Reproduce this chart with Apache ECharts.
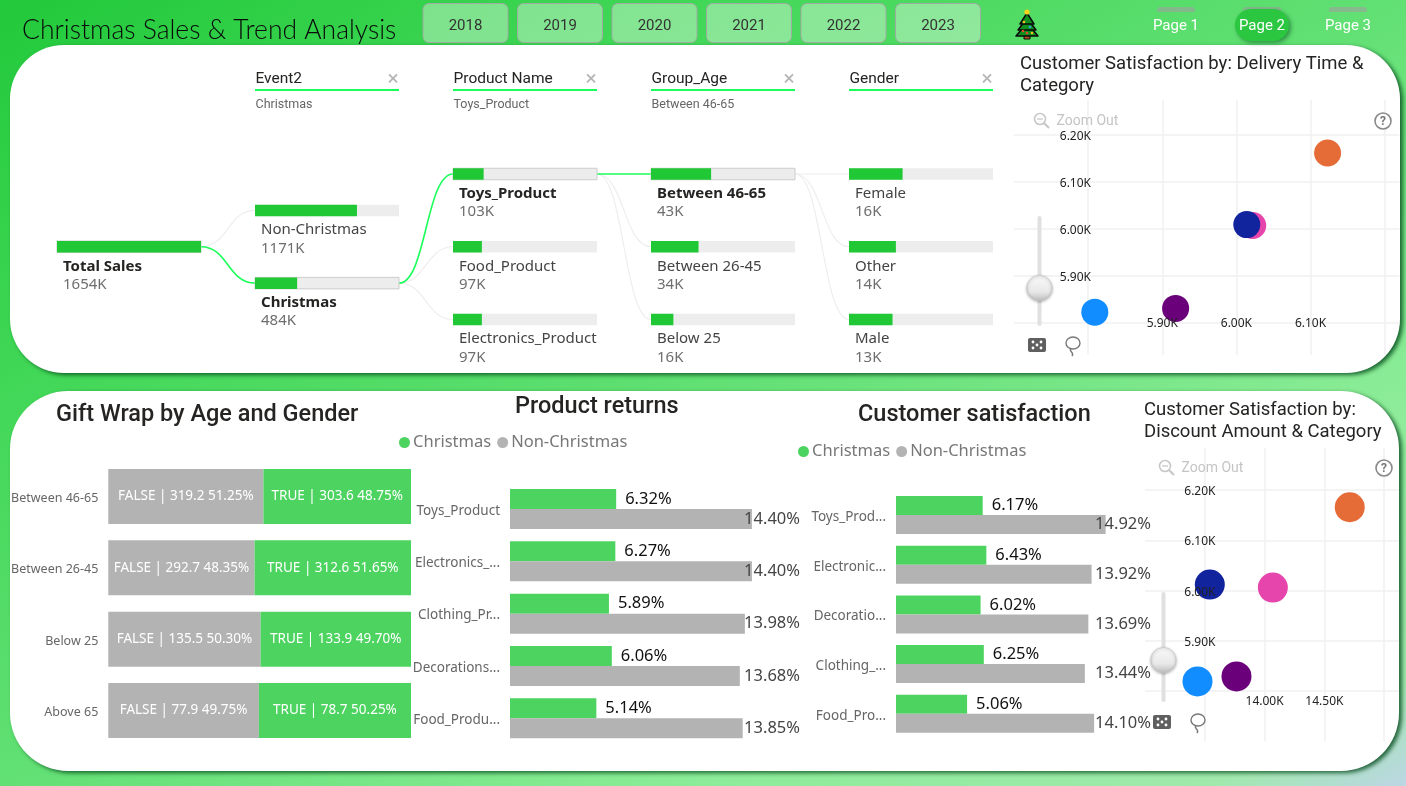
<!DOCTYPE html>
<html>
<head>
<meta charset="utf-8">
<title>Christmas Sales &amp; Trend Analysis</title>
<style>html,body{margin:0;padding:0;overflow:hidden}#chart{width:1406px;height:786px}</style>
<script src="https://cdn.jsdelivr.net/npm/echarts@6/dist/echarts.min.js"></script>
</head>
<body>
<div id="chart"></div>
<script>
// Report data
const years = ['2018', '2019', '2020', '2021', '2022', '2023'];
const pages = ['Page 1', 'Page 2', 'Page 3'];
const activePage = 1;

const treeFields = ['Event2', 'Product Name', 'Group_Age', 'Gender'];
const treeFilters = ['Christmas', 'Toys_Product', 'Between 46-65', ''];
const treeNames = [
  ['Total Sales'],
  ['Non-Christmas', 'Christmas'],
  ['Toys_Product', 'Food_Product', 'Electronics_Product'],
  ['Between 46-65', 'Between 26-45', 'Below 25'],
  ['Female', 'Other', 'Male']
];
const treeValues = [[1654], [1171, 484], [103, 97, 97], [43, 34, 16], [16, 14, 13]];
const treeSelected = [0, 1, 0, 0, -1];

const ageGroups = ['Between 46-65', 'Between 26-45', 'Below 25', 'Above 65'];
const wrapFalse = [319.2, 292.7, 135.5, 77.9];
const wrapTrue = [303.6, 312.6, 133.9, 78.7];
const wrapFalsePct = [51.25, 48.35, 50.30, 49.75];
const wrapTruePct = [48.75, 51.65, 49.70, 50.25];

const returnCategories = ['Toys_Product', 'Electronics_...', 'Clothing_Pr...', 'Decorations...', 'Food_Produ...'];
const returnsChristmas = [6.32, 6.27, 5.89, 6.06, 5.14];
const returnsOther = [14.40, 14.40, 13.98, 13.68, 13.85];

const satisfactionCategories = ['Toys_Prod...', 'Electronic...', 'Decoratio...', 'Clothing_...', 'Food_Pro...'];
const satisfactionChristmas = [6.17, 6.43, 6.02, 6.25, 5.06];
const satisfactionOther = [14.92, 13.92, 13.69, 13.44, 14.10];

const pointColors = ['#E66C37', '#E645AB', '#12239E', '#6B007B', '#118DFF'];
const deliveryX = [6123, 6022, 6014, 5918, 5809];
const deliveryY = [6162, 6007, 6009, 5830, 5822];
const discountX = [14712, 14069, 13542, 13765, 13439];
const discountY = [6166, 6006, 6012, 5829, 5819];
const deliveryXTicks = ['5.90K', '6.00K', '6.10K'];
const deliveryYTicks = ['5.90K', '6.00K', '6.10K', '6.20K'];
const discountXTicks = ['14.00K', '14.50K'];
const discountYTicks = ['5.90K', '6.00K', '6.10K', '6.20K'];

// Shared look
const DIN = 'Roboto, sans-serif';
const UI = '"Noto Sans", "Open Sans", sans-serif';
const GREEN = '#4DD360';
const GRAY = '#B3B3B3';
const TREE_GREEN = '#1FC834';
const TREE_TRACK = '#EDEDED';
const TREE_ACTIVE = '#1AFF5A';
const TREE_NODE_W = 144;
const TREE_COL_STEP = 198;
const TREE_BAR_H = 11.5;

const kLabel = v => (v / 1000).toFixed(2) + 'K';
const tickFormatter = list => v => (list.includes(kLabel(v)) ? kLabel(v) : '');
// Rich wrapper that nudges a label down inside its line
const nudgedTick = list => v => (list.includes(kLabel(v)) ? `{t|${kLabel(v)}}` : '');

// Flatten the decomposition levels into node and link rows
const treeNodes = [];
const treeLinks = [];
treeNames.forEach((names, col) => {
  names.forEach((name, i) => {
    const row = 1 + i - (names.length - 1) / 2;
    const parentIdx = col ? treeSelected[col - 1] : -1;
    const parentValue = col ? treeValues[col - 1][parentIdx] : treeValues[0][0];
    const isOn = treeSelected[col] === i;
    treeNodes.push({ value: [col, row, treeValues[col][i] / parentValue, i], name, raw: treeValues[col][i], isOn });
    if (col) {
      const parentRow = 1 + parentIdx - (treeNames[col - 1].length - 1) / 2;
      treeLinks.push({ value: [col, row, col - 1, parentRow], isOn });
    }
  });
});
treeLinks.sort((a, b) => a.isOn - b.isOn);

function renderTreeLink(params, api) {
  const link = treeLinks[params.dataIndex];
  const end = api.coord([api.value(0), api.value(1)]);
  const start = api.coord([api.value(2), api.value(3)]);
  const x1 = start[0] + TREE_NODE_W;
  const mid = (x1 + end[0]) / 2;
  return {
    type: 'bezierCurve',
    shape: { x1, y1: start[1], x2: end[0], y2: end[1], cpx1: mid, cpy1: start[1], cpx2: mid, cpy2: end[1] },
    style: { stroke: link.isOn ? TREE_ACTIVE : '#EEEEEE', lineWidth: link.isOn ? 1.6 : 1.2, fill: null }
  };
}

function renderTreeNode(params, api) {
  const node = treeNodes[params.dataIndex];
  const [x, y] = api.coord([api.value(0), api.value(1)]);
  const top = y - TREE_BAR_H / 2;
  return {
    type: 'group',
    children: [
      { type: 'rect', shape: { x, y: top, width: TREE_NODE_W, height: TREE_BAR_H },
        style: { fill: TREE_TRACK, stroke: node.isOn ? '#CCCCCC' : null, lineWidth: 1 } },
      { type: 'rect', shape: { x, y: top, width: TREE_NODE_W * api.value(2), height: TREE_BAR_H },
        style: { fill: TREE_GREEN } },
      { type: 'text', style: { text: node.name, x: x + 6, y: y + 19.5, verticalAlign: 'middle',
          fill: node.isOn ? '#252423' : '#444444', fontFamily: UI, fontSize: 15, fontWeight: node.isOn ? 700 : 400 } },
      { type: 'text', style: { text: node.raw + 'K', x: x + 6, y: y + 38, verticalAlign: 'middle',
          fill: '#6E6E6E', fontFamily: UI, fontSize: 15 } }
    ]
  };
}

// Page furniture drawn behind and above the plots
const graphics = [];
const panel = (x, y, width, height, r) => graphics.push({
  type: 'rect', z: -10, shape: { x, y, width, height, r },
  style: { fill: '#FFFFFF', shadowColor: 'rgba(0,70,25,0.8)', shadowBlur: 4, shadowOffsetX: 3, shadowOffsetY: 2 }
});
panel(10, 45, 1390, 328, 54);
panel(10, 391, 1389, 380, 58);

graphics.push({ type: 'text', z: 5, style: { text: 'Christmas Sales & Trend Analysis', x: 22, y: 30, verticalAlign: 'middle',
  fill: '#0A0A0A', fontFamily: 'Lato, sans-serif', fontWeight: 300, fontSize: 26.5 } });

years.forEach((label, i) => {
  const x = 423 + i * 94.5;
  graphics.push({ type: 'rect', z: -5, shape: { x, y: 3.5, width: 85, height: 39, r: 6 },
    style: { fill: 'rgba(255,255,255,0.36)', stroke: 'rgba(165,165,165,0.9)', lineWidth: 1 } });
  graphics.push({ type: 'text', z: 5, style: { text: label, x: x + 42.5, y: 26.5, align: 'center', verticalAlign: 'middle',
    fill: '#333333', fontFamily: DIN, fontSize: 15 } });
});

pages.forEach((label, i) => {
  const cx = 1176 + i * 86;
  graphics.push({ type: 'rect', z: -6, shape: { x: cx - 19, y: 7, width: 38, height: 5, r: [3, 3, 0, 0] },
    style: { fill: 'rgba(160,160,160,0.6)' } });
  if (i === activePage) {
    graphics.push({ type: 'rect', z: -5, shape: { x: cx - 27, y: 9, width: 54, height: 32, r: 16 },
      style: { fill: '#2CC741', shadowColor: 'rgba(0,70,25,0.5)', shadowBlur: 4, shadowOffsetX: 2, shadowOffsetY: 2 } });
  }
  graphics.push({ type: 'text', z: 5, style: { text: label, x: cx, y: 26, align: 'center', verticalAlign: 'middle',
    fill: '#FFFFFF', fontFamily: DIN, fontSize: 15 } });
});

// Small tree ornament next to the page buttons
[[[1027, 13], [1020, 24], [1034, 24]], [[1027, 18], [1018, 30], [1036, 30]], [[1027, 23], [1016, 36], [1038, 36]]]
  .reverse().forEach(points => graphics.push({ type: 'polygon', z: 5, shape: { points },
    style: { fill: '#0E8F1E', stroke: '#0A0A0A', lineWidth: 1.5, lineJoin: 'round' } }));
graphics.push({ type: 'rect', z: 4, shape: { x: 1024, y: 35, width: 6, height: 4 }, style: { fill: '#B5501A', stroke: '#0A0A0A', lineWidth: 1 } });
graphics.push({ type: 'circle', z: 6, shape: { cx: 1027, cy: 12, r: 2.6 }, style: { fill: '#F7D21B' } });
[[1024, 22, '#F2C21B'], [1030, 27, '#2FA8E0'], [1023, 31, '#E84B2A'], [1032, 33, '#F2C21B'], [1027, 33, '#E84B2A']]
  .forEach(([cx, cy, fill]) => graphics.push({ type: 'circle', z: 6, shape: { cx, cy, r: 1.3 }, style: { fill } }));

// Slicer headers above the decomposition columns
treeFields.forEach((field, i) => {
  const x = 57 + TREE_COL_STEP * (i + 1);
  graphics.push({ type: 'text', z: 5, style: { text: field, x: x + 0.5, y: 79, verticalAlign: 'middle', fill: '#252423', fontFamily: DIN, fontSize: 15.5 } });
  graphics.push({ type: 'text', z: 5, style: { text: '×', x: x + 138, y: 79.5, align: 'center', verticalAlign: 'middle', fill: '#B5B5B5', fontFamily: DIN, fontSize: 21 } });
  graphics.push({ type: 'rect', z: 5, shape: { x, y: 89, width: TREE_NODE_W, height: 2 }, style: { fill: TREE_ACTIVE } });
  graphics.push({ type: 'text', z: 5, style: { text: treeFilters[i], x: x + 0.5, y: 104.5, verticalAlign: 'middle', fill: '#666666', fontFamily: DIN, fontSize: 12.5 } });
});

// Zoom, help, slider and selection controls for a scatter plot
function scatterControls(o) {
  const z = 20;
  graphics.push({ type: 'circle', z, shape: { cx: o.zoomX, cy: o.zoomY - 1, r: 5.5 }, style: { fill: 'none', stroke: '#C8C8C8', lineWidth: 1.6 } });
  graphics.push({ type: 'line', z, shape: { x1: o.zoomX + 4, y1: o.zoomY + 3, x2: o.zoomX + 9, y2: o.zoomY + 8 }, style: { stroke: '#C8C8C8', lineWidth: 2.2 } });
  graphics.push({ type: 'line', z, shape: { x1: o.zoomX - 3, y1: o.zoomY - 1, x2: o.zoomX + 3, y2: o.zoomY - 1 }, style: { stroke: '#C8C8C8', lineWidth: 1.3 } });
  graphics.push({ type: 'text', z, style: { text: 'Zoom Out', x: o.zoomX + 16.5, y: o.zoomY + 1.5, verticalAlign: 'middle', fill: '#C4C4C4', fontFamily: DIN, fontSize: 14 } });
  graphics.push({ type: 'circle', z, shape: { cx: o.helpX, cy: o.zoomY + 1, r: 8 }, style: { fill: '#FFFFFF', stroke: '#8A8A8A', lineWidth: 1.6 } });
  graphics.push({ type: 'text', z, style: { text: '?', x: o.helpX, y: o.zoomY + 1.5, align: 'center', verticalAlign: 'middle', fill: '#777777', fontFamily: DIN, fontSize: 12, fontWeight: 700 } });
  graphics.push({ type: 'rect', z, shape: { x: o.sliderX - 2, y: o.sliderTop, width: 4, height: o.sliderH, r: 2 }, style: { fill: '#E0E0E0' } });
  graphics.push({ type: 'circle', z: z + 1, shape: { cx: o.sliderX, cy: o.knobY, r: 12.5 }, style: {
    fill: { type: 'linear', x: 0, y: 0, x2: 0, y2: 1, colorStops: [{ offset: 0, color: '#FAFAFA' }, { offset: 0.65, color: '#E8E8E8' }, { offset: 1, color: '#BDBDBD' }] },
    stroke: '#C8C8C8', lineWidth: 0.8, shadowColor: 'rgba(0,0,0,0.3)', shadowBlur: 3, shadowOffsetY: 1 } });
  graphics.push({ type: 'rect', z, shape: { x: o.iconX - 9, y: o.iconY - 7, width: 18, height: 14, r: 2 }, style: { fill: '#5F5F5F' } });
  [[-4, -3], [4, -3], [-4, 3], [4, 3], [0, 0]].forEach(([dx, dy]) => graphics.push({ type: 'circle', z: z + 1,
    shape: { cx: o.iconX + dx, cy: o.iconY + dy, r: 1.4 }, style: { fill: '#FFFFFF' } }));
  graphics.push({ type: 'ellipse', z, shape: { cx: o.iconX + 36, cy: o.iconY - 2, rx: 7, ry: 6 }, style: { fill: 'none', stroke: '#777777', lineWidth: 1.4 } });
  graphics.push({ type: 'bezierCurve', z, shape: { x1: o.iconX + 34, y1: o.iconY + 3, cpx1: o.iconX + 31, cpy1: o.iconY + 7, cpx2: o.iconX + 38, cpy2: o.iconY + 7, x2: o.iconX + 35, y2: o.iconY + 11 }, style: { fill: 'none', stroke: '#777777', lineWidth: 1.4 } });
}
scatterControls({ zoomX: 1040, zoomY: 120, helpX: 1383, sliderX: 1039.5, sliderTop: 216, sliderH: 110, knobY: 288, iconX: 1037, iconY: 345 });
scatterControls({ zoomX: 1165, zoomY: 467, helpX: 1384, sliderX: 1163.5, sliderTop: 592, sliderH: 110, knobY: 660, iconX: 1162, iconY: 722 });

// Builders for the repeated chart parts
const hiddenValueAxis = (gridIndex, max) => ({ type: 'value', gridIndex, show: false, min: 0, max });
const categoryAxis = (gridIndex, data, fontSize) => ({
  type: 'category', gridIndex, data, inverse: true,
  axisLine: { show: false }, axisTick: { show: false },
  axisLabel: { margin: 10, formatter: v => `{t|${v}}`,
    rich: { t: { color: '#666666', fontFamily: UI, fontSize, padding: [4, 0, 0, 0] } } }
});
const pairSeries = (grid, christmas, other, rightEdge, barWidth) => [
  { name: 'Christmas', type: 'bar', xAxisIndex: grid, yAxisIndex: grid, data: christmas, barWidth, barGap: 0,
    itemStyle: { color: GREEN },
    label: { show: true, position: 'right', distance: 9, color: '#111111', fontFamily: UI, fontSize: 16.5, formatter: p => p.value.toFixed(2) + '%' } },
  { name: 'Non-Christmas', type: 'bar', xAxisIndex: grid, yAxisIndex: grid, data: other, barWidth, barGap: 0,
    itemStyle: { color: GRAY },
    label: { show: true, position: 'right', color: '#444444', fontFamily: UI, fontSize: 16.5, formatter: p => p.value.toFixed(2) + '%' },
    labelLayout: () => ({ x: rightEdge, align: 'right', verticalAlign: 'middle' }) }
];

// Tick labels sit above the points, the gridlines below them, so each scatter
// plot has a label layer plus separate gridline layers on the same scales.
const SCATTER_LINE = { show: true, showMinLine: false, showMaxLine: false, lineStyle: { color: '#F1F1F1', width: 1.5 } };
const bareAxis = { axisLine: { show: false }, axisTick: { show: false } };
const scatterXAxis = (gridIndex, s, extra) => ({ type: 'value', gridIndex, min: s.xMin, max: s.xMax, interval: s.xStep, ...bareAxis, splitLine: { show: false }, axisLabel: { show: false }, ...extra });
const scatterYAxis = (gridIndex, s, extra) => ({ type: 'value', gridIndex, min: s.yMin, max: s.yMax, interval: 100, ...bareAxis, splitLine: { show: false }, axisLabel: { show: false }, ...extra });
const scatterGrids = [
  { rect: { left: 1014, top: 100, width: 385.5, height: 269.3 }, vLineHeight: 255, xMin: 5700, xMax: 6220, xStep: 100, xOffset: -51.5, yOffset: -77, xTicks: deliveryXTicks, yTicks: deliveryYTicks, yMin: 5700, yMax: 6275 },
  { rect: { left: 1145, top: 448, width: 254, height: 293.2 }, vLineHeight: 293.2, xMin: 13000, xMax: 15124, xStep: 500, xOffset: -46, yOffset: -70.5, xTicks: discountXTicks, yTicks: discountYTicks, yMin: 5700, yMax: 6284 }
];
const labelStyle = { margin: 0, color: '#222222', fontFamily: UI, fontSize: 12 };
const nudgedRich = { t: { color: '#222222', fontFamily: UI, fontSize: 12, padding: [3, 0, 0, 0] } };

const headingStyle = size => ({ color: '#252423', fontFamily: DIN, fontSize: size, fontWeight: 500 });
const smallHeading = { ...headingStyle(18.5), lineHeight: 21.5, fontWeight: 400 };
const legendText = { color: '#777777', fontFamily: UI, fontSize: 16.5, padding: [0, 0, 0, -2] };
const legendBase = { padding: 0, icon: 'circle', itemWidth: 11, itemHeight: 11, itemGap: 6, selectedMode: false, data: ['Christmas', 'Non-Christmas'], textStyle: legendText };

const grids = [
  { left: 57, top: 174, width: TREE_COL_STEP * 5, height: 145.5 },
  scatterGrids[0].rect,
  scatterGrids[1].rect,
  { left: 108.3, top: 460.9, width: 302.7, height: 285.2 },
  { left: 510, top: 482.8, width: 268.8, height: 261.7 },
  { left: 896, top: 490.2, width: 224.8, height: 248.4 }
];
const xAxes = [
  { type: 'value', gridIndex: 0, show: false, min: 0, max: 5 },
  scatterXAxis(1, scatterGrids[0], { z: 10, offset: scatterGrids[0].xOffset, axisLabel: { ...labelStyle, verticalAlign: 'top', formatter: tickFormatter(deliveryXTicks) } }),
  scatterXAxis(2, scatterGrids[1], { z: 10, offset: scatterGrids[1].xOffset, axisLabel: { ...labelStyle, verticalAlign: 'top', formatter: tickFormatter(discountXTicks) } }),
  hiddenValueAxis(3, 100),
  hiddenValueAxis(4, 16),
  hiddenValueAxis(5, 16)
];
const yAxes = [
  { type: 'value', gridIndex: 0, show: false, min: 0, max: 2, inverse: true },
  scatterYAxis(1, scatterGrids[0], { z: 10, offset: scatterGrids[0].yOffset, axisLabel: { margin: 0, rich: nudgedRich, formatter: nudgedTick(deliveryYTicks) } }),
  scatterYAxis(2, scatterGrids[1], { z: 10, offset: scatterGrids[1].yOffset, axisLabel: { margin: 0, rich: nudgedRich, formatter: nudgedTick(discountYTicks) } }),
  categoryAxis(3, ageGroups, 12.5),
  categoryAxis(4, returnCategories, 13.5),
  categoryAxis(5, satisfactionCategories, 13.5)
];
// Gridline layers: one grid for the vertical lines, one for the horizontal ones
scatterGrids.forEach(s => {
  const vIndex = grids.length;
  grids.push({ ...s.rect, height: s.vLineHeight });
  xAxes.push(scatterXAxis(vIndex, s, { z: 1, splitLine: SCATTER_LINE }));
  yAxes.push(scatterYAxis(vIndex, s, { z: 1 }));
  const hIndex = grids.length;
  grids.push({ ...s.rect });
  xAxes.push(scatterXAxis(hIndex, s, { z: 1 }));
  yAxes.push(scatterYAxis(hIndex, s, { z: 1, splitLine: SCATTER_LINE }));
});

const scatterSeries = (grid, xs, ys, symbolSize) => ({
  type: 'scatter', xAxisIndex: grid, yAxisIndex: grid, symbolSize, z: 3,
  data: xs.map((x, i) => ({ value: [x, ys[i]], itemStyle: { color: pointColors[i], opacity: 1 } }))
});

const option = {
  animation: false,
  // The gradient vector is normal to the page's anti-diagonal
  backgroundColor: { type: 'linear', x: 0, y: 0, x2: 0.476, y2: 1.523, colorStops: [
    { offset: 0, color: '#22C93A' }, { offset: 0.25, color: '#41D757' }, { offset: 0.5, color: '#62E074' },
    { offset: 0.75, color: '#8CEC98' }, { offset: 0.93, color: '#A0E9AC' }, { offset: 1, color: '#BCD6E4' } ] },
  graphic: { elements: graphics },
  title: [
    { text: 'Customer Satisfaction by: Delivery Time &\nCategory', left: 1020, top: 54, padding: 0, textStyle: smallHeading },
    { text: 'Gift Wrap by Age and Gender', left: 56, top: 403, padding: 0, textStyle: headingStyle(23.5) },
    { text: 'Product returns', left: 515, top: 395, padding: 0, textStyle: headingStyle(23.5) },
    { text: 'Customer satisfaction', left: 858, top: 403, padding: 0, textStyle: headingStyle(23.5) },
    { text: 'Customer Satisfaction by:\nDiscount Amount & Category', left: 1144, top: 400, padding: 0, textStyle: smallHeading }
  ],
  legend: [
    { ...legendBase, left: 399, top: 434 },
    { ...legendBase, left: 798, top: 443 }
  ],
  grid: grids,
  xAxis: xAxes,
  yAxis: yAxes,
  series: [
    { type: 'custom', xAxisIndex: 0, yAxisIndex: 0, clip: false, z: 2, silent: true, renderItem: renderTreeLink, data: treeLinks },
    { type: 'custom', xAxisIndex: 0, yAxisIndex: 0, clip: false, z: 3, silent: true, renderItem: renderTreeNode, data: treeNodes },
    scatterSeries(1, deliveryX, deliveryY, 27),
    scatterSeries(2, discountX, discountY, 30),
    { name: 'FALSE', type: 'bar', stack: 'wrap', xAxisIndex: 3, yAxisIndex: 3, barWidth: 55, data: wrapFalsePct,
      itemStyle: { color: GRAY },
      label: { show: true, position: 'inside', color: '#FFFFFF', fontFamily: UI, fontSize: 13.5,
        formatter: p => `FALSE | ${wrapFalse[p.dataIndex].toFixed(1)} ${p.value.toFixed(2)}%` } },
    { name: 'TRUE', type: 'bar', stack: 'wrap', xAxisIndex: 3, yAxisIndex: 3, barWidth: 55, data: wrapTruePct,
      itemStyle: { color: GREEN },
      label: { show: true, position: 'inside', color: '#FFFFFF', fontFamily: UI, fontSize: 13.5,
        formatter: p => `TRUE | ${wrapTrue[p.dataIndex].toFixed(1)} ${p.value.toFixed(2)}%` } },
    ...pairSeries(4, returnsChristmas, returnsOther, 800, 20),
    ...pairSeries(5, satisfactionChristmas, satisfactionOther, 1151, 19)
  ]
};

echarts.init(document.getElementById('chart'), null, { renderer: 'canvas' }).setOption(option);
</script>
</body>
</html>
